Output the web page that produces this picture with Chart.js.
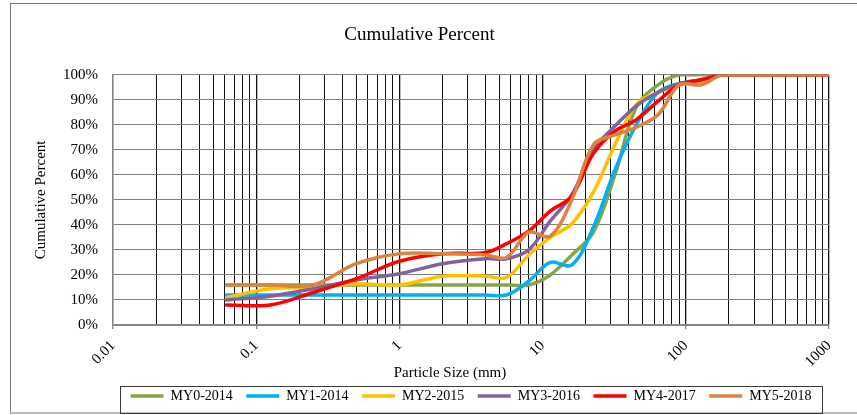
<!DOCTYPE html>
<html><head><meta charset="utf-8">
<script src="https://cdn.jsdelivr.net/npm/chart.js@4.4.1/dist/chart.umd.min.js"></script>
<style>html,body{margin:0;padding:0;background:#fff}#wrap{width:857px;height:415px}</style>
</head><body><div id="wrap"><canvas id="c" width="857" height="415"></canvas></div>
<script>
// ---- data ----
const sizes = [0.062,0.125,0.25,0.5,1,2,4,5.6,8,11.3,16,22.6,32,45,64,90,128,180,256,362,512,1000];
const my0_2014 = [16,16,16,16,16,16,16,16,16,20,28,37,60,87,96,100,100,100,100,100,100,100];
const my1_2014 = [12,12,12,12,12,12,12,12,17.5,25,24,39,62,80,93,96.5,98,100,100,100,100,100];
const my2_2015 = [11,14.5,15,16.5,16,19.5,19.5,19,28,35,40.5,53,72,88,93,96,97.5,100,100,100,100,100];
const my3_2016 = [10,11.5,14.5,18,20.5,24.5,26.5,26.5,30,41.5,52,70,79.5,87.5,93,96.5,98,100,100,100,100,100];
const my4_2017 = [8,8,13,18.5,25.5,28.5,29,32.5,37.5,45.5,51.5,68.5,77.5,82,89.5,96,98,100,100,100,100,100];
const my5_2018 = [16,16,16,24.5,28.5,28.5,28,27,37,35.5,50,72,76,79,84,96,96,100,100,100,100,100];
const seriesLabels = ['MY0-2014','MY1-2014','MY2-2015','MY3-2016','MY4-2017','MY5-2018'];
const seriesValues = [my0_2014,my1_2014,my2_2015,my3_2016,my4_2017,my5_2018];
const seriesColors = ['#86A548','#00B0F0','#FFC000','#7F63A1','#FF0000','#DC843E'];
const xTickLabels = ['0.01','0.1','1','10','100','1000'];
const yTicks = [0,10,20,30,40,50,60,70,80,90,100];
const xAxisTitle = 'Particle Size (mm)';

// ---- build ----
const decades = xTickLabels.map(Number);
const xTickValues = [];
for (let i = 0; i < decades.length - 1; i++) {
  for (let k = 1; k <= 9; k++) xTickValues.push(Number((k * decades[i]).toPrecision(3)));
}
xTickValues.push(decades[decades.length - 1]);
const isDecade = v => decades.some(d => Math.abs(d - v) < 1e-9 * d);

const serif = "'Liberation Serif','Times New Roman',serif";

const datasets = seriesLabels.map((lab, i) => ({
  label: lab,
  data: sizes.map((s, j) => ({x: s, y: seriesValues[i][j]})),
  borderColor: seriesColors[i],
  backgroundColor: seriesColors[i],
  borderWidth: 3.5,
  borderCapStyle: 'round',
  borderJoinStyle: 'round',
  pointRadius: 0,
  tension: 0.35,
  order: seriesLabels.length - i
}));

const framePlugin = {
  id: 'frame',
  beforeDraw(chart) {
    const ctx = chart.ctx;
    ctx.save();
    ctx.fillStyle = '#fff';
    ctx.fillRect(0, 0, chart.width, chart.height);
    ctx.restore();
  },
  afterDraw(chart) {
    const ctx = chart.ctx;
    ctx.save();
    ctx.strokeStyle = '#7a7a7a';
    ctx.lineWidth = 1;
    ctx.strokeRect(10.5, 3.5, chart.width + 10, 409.5);
    const L = chart.legend;
    ctx.strokeStyle = '#3a3a3a';
    ctx.strokeRect(L.left + 7.5, L.top + 0.5, L.width - 14, L.height);
    // x-axis title (placed as in the original, left of plot centre)
    ctx.fillStyle = '#000';
    ctx.font = "15px " + serif;
    ctx.textAlign = 'center';
    ctx.textBaseline = 'middle';
    ctx.fillText(xAxisTitle, chart.chartArea.left + 337, 373);
    ctx.restore();
  }
};

const defaultLabels = Chart.defaults.plugins.legend.labels.generateLabels;

new Chart(document.getElementById('c'), {
  type: 'line',
  data: {datasets},
  plugins: [framePlugin],
  options: {
    responsive: false,
    animation: false,
    devicePixelRatio: 1,
    layout: {padding: {left: 10, right: 28, top: 0, bottom: 2}},
    plugins: {
      title: {
        display: true, text: 'Cumulative Percent', color: '#000',
        font: {family: serif, size: 19, weight: 'normal'},
        padding: {top: 24, bottom: 28}
      },
      legend: {
        position: 'bottom', fullSize: false,
        labels: {
          usePointStyle: true, pointStyle: 'line', pointStyleWidth: 33,
          boxHeight: 4, padding: 3, color: '#000',
          font: {family: serif, size: 14},
          generateLabels: chart => defaultLabels(chart).map(it =>
            Object.assign(it, {text: it.datasetIndex < seriesLabels.length - 1 ? it.text + '   ' : it.text})),
          sort: (a, b) => a.datasetIndex - b.datasetIndex
        }
      },
      tooltip: {enabled: false}
    },
    scales: {
      x: {
        type: 'logarithmic', min: 0.01, max: 1000,
        afterBuildTicks: s => { s.ticks = xTickValues.map(v => ({value: v})); },
        afterFit: s => { s.height = 61; },
        ticks: {
          autoSkip: false, maxRotation: 45, minRotation: 45, padding: 8,
          color: '#000', font: {family: serif, size: 15},
          callback: v => isDecade(v) ? String(v) : ''
        },
        grid: {
          color: c => (c.tick && c.tick.value === 0.01) ? '#868686' : '#111',
          lineWidth: c => (c.tick && isDecade(c.tick.value)) ? 1.3 : 1,
          tickColor: c => (c.tick && isDecade(c.tick.value)) ? '#868686' : 'rgba(0,0,0,0)',
          tickLength: 4, drawTicks: true
        },
        border: {display: true, color: '#868686', width: 1.5},
        title: {display: false, text: xAxisTitle}
      },
      y: {
        min: 0, max: 100,
        afterBuildTicks: s => { s.ticks = yTicks.map(v => ({value: v})); },
        afterFit: s => { s.width = 103; },
        ticks: {
          padding: 15, color: '#000', font: {family: serif, size: 15},
          callback: v => v + '%'
        },
        grid: {color: '#7f7f7f', lineWidth: 1, drawTicks: false},
        border: {display: true, color: '#868686', width: 1.5},
        title: {
          display: true, text: 'Cumulative Percent', color: '#000',
          font: {family: serif, size: 15}, padding: {top: 22, bottom: 0}
        }
      }
    }
  }
});
</script></body></html>
